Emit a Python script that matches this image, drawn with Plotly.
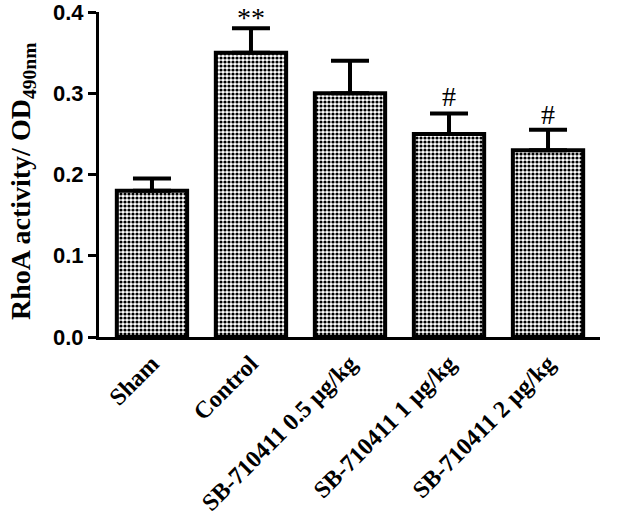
import plotly.graph_objects as go

groups = ["Sham", "Control", "SB-710411 0.5 µg/kg", "SB-710411 1 µg/kg", "SB-710411 2 µg/kg"]
means = [0.18, 0.35, 0.30, 0.25, 0.23]
sem = [0.015, 0.03, 0.04, 0.025, 0.025]
marks = ["", "**", "", "#", "#"]
mark_y = [0.0, 0.40, 0.0, 0.296, 0.274]
y_ticks = [0.0, 0.1, 0.2, 0.3, 0.4]

fig = go.Figure()
fig.add_trace(go.Bar(
    x=list(range(len(groups))), y=means, width=0.71,
    marker=dict(color="white",
                line=dict(color="black", width=4),
                pattern=dict(shape=".", fgcolor="black", bgcolor="white",
                             size=4, solidity=0.5, fillmode="replace")),
    error_y=dict(type="data", symmetric=False, array=sem,
                 arrayminus=[0] * len(sem), color="black",
                 thickness=4, width=19),
    showlegend=False,
))

for i, (m, yy) in enumerate(zip(marks, mark_y)):
    if m:
        star = m == "**"
        fig.add_annotation(x=i, y=yy, text=m, showarrow=False,
                           xref="x", yref="y",
                           yanchor="top" if star else "middle",
                           yshift=12 if star else 0,
                           font=dict(family="Liberation Serif", size=28, color="black"))

# y-axis title
fig.add_annotation(text="RhoA activity/ OD<sub>490nm</sub>", textangle=-90,
                   xref="paper", yref="paper", x=0, y=0.48,
                   xanchor="center", yanchor="middle", xshift=-77, showarrow=False,
                   font=dict(family="Liberation Serif", size=28, color="black", weight="bold"))

fig.update_layout(
    width=625, height=519,
    margin=dict(l=99, r=25, t=12, b=182),
    plot_bgcolor="white", paper_bgcolor="white",
    xaxis=dict(range=[-0.535, 4.525], tickmode="array", automargin=False,
               tickvals=list(range(len(groups))), ticktext=groups,
               tickangle=-45, showline=True, linecolor="black", linewidth=3,
               ticks="", showgrid=False, zeroline=False, ticklabeloverflow="allow",
               tickfont=dict(family="Liberation Serif", size=24, color="black", weight="bold")),
    yaxis=dict(range=[0, 0.4], tickmode="array", tickvals=y_ticks, automargin=False,
               ticktext=[f"{v:.1f}" for v in y_ticks], ticklabeloverflow="allow",
               showline=True, linecolor="black", linewidth=3,
               ticks="outside", ticklen=8, tickwidth=3, tickcolor="black",
               showgrid=False, zeroline=False,
               tickfont=dict(family="Liberation Sans", size=22, color="black", weight="bold")),
)

fig.write_html("out.html", config={"displayModeBar": False},
               post_script="document.body.style.margin='0px';document.body.style.overflow='hidden';")
